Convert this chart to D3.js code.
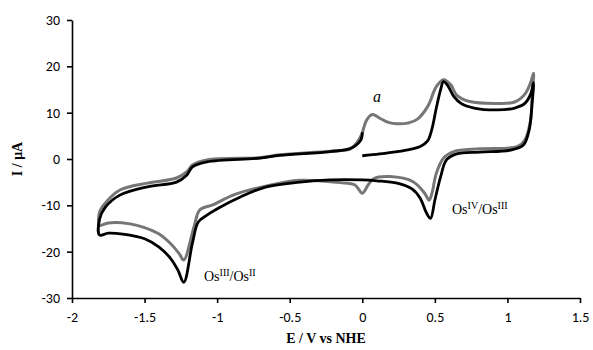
<!DOCTYPE html>
<html>
<head>
<meta charset="utf-8">
<script src="https://cdn.jsdelivr.net/npm/d3@7"></script>
<style>
  body { margin: 0; background: #fff; }
  svg text { fill: #000; }
</style>
</head>
<body>
<svg id="chart" width="593" height="350"></svg>
<script>
// x ticks / y ticks
const xTicks = [-2, -1.5, -1, -0.5, 0, 0.5, 1, 1.5];
const yTicks = [-30, -20, -10, 0, 10, 20, 30];

// black CV (E in V, I in uA)
const blackE = [0.0, 0.12, 0.24, 0.33, 0.4, 0.45, 0.48, 0.51, 0.54, 0.56, 0.59, 0.63, 0.68, 0.77, 0.93, 1.05, 1.12, 1.16, 1.18,
  1.17, 1.15, 1.11, 1.02, 0.81, 0.65, 0.58, 0.54, 0.5, 0.47, 0.44, 0.4, 0.34, 0.24, 0.1, 0.0, -0.22, -0.43, -0.66, -0.84, -0.98, -1.07, -1.13, -1.17, -1.23, -1.27, -1.32, -1.4, -1.5, -1.65, -1.75, -1.81,
  -1.81, -1.77, -1.67, -1.48, -1.28, -1.21, -1.17, -1.07, -0.7, -0.57, -0.22, -0.08, -0.01, 0.0];
const blackI = [0.7, 1.1, 1.6, 2.1, 2.7, 3.9, 6.5, 11, 15, 16.7, 15.8, 13.5, 12, 11, 10.6, 11, 12, 14, 16.5,
  12, 6.3, 3, 1.9, 1.5, 1.1, -0.2, -3.8, -8.9, -12.8, -11.5, -8.5, -6.4, -5.2, -4.7, -4.5, -4.5, -5, -6, -8.2, -10.4, -12.1, -13.6, -18.1, -26.6, -24, -21.5, -19, -17.2, -16.2, -16, -16.4,
  -13, -10.4, -7.8, -6, -5, -3.5, -1.7, -0.6, 0.2, 0.8, 1.6, 2.3, 4.1, 5.8];

// grey CV
const greyE = [0.0, 0.03, 0.07, 0.12, 0.18, 0.24, 0.32, 0.38, 0.45, 0.51, 0.56, 0.61, 0.65, 0.74, 0.93, 1.05, 1.12, 1.16, 1.18,
  1.17, 1.16, 1.12, 1.07, 0.81, 0.63, 0.56, 0.51, 0.48, 0.46, 0.43, 0.35, 0.19, 0.08, 0.04, 0.0, -0.05, -0.15, -0.22, -0.43, -0.66, -0.89, -1.03, -1.12, -1.16, -1.23, -1.26, -1.32, -1.4, -1.5, -1.6, -1.75, -1.81,
  -1.81, -1.77, -1.67, -1.48, -1.28, -1.21, -1.17, -1.07, -0.7, -0.57, -0.22, -0.08, -0.04, 0.0];
const greyI = [5.5, 8.4, 9.6, 8.8, 7.9, 7.6, 7.8, 8.6, 11.3, 15.6, 17.1, 16, 13.8, 12.4, 12, 12.3, 14, 16.5, 18.5,
  14, 8.4, 4.1, 2.7, 2.2, 1.6, 0.2, -3.1, -7.4, -8.9, -7.4, -4.9, -3.8, -4.2, -5.6, -7.4, -5.6, -5.1, -4.9, -4.6, -5.8, -7.8, -9.9, -11, -14.7, -21.8, -20.5, -18.3, -16.2, -14.8, -14, -13.8, -14.3,
  -11.5, -9.5, -6.7, -5.2, -4.1, -2.8, -1.3, -0.2, 0.3, 0.9, 1.7, 2.2, 3.4, 5.5];

const svg = d3.select("#chart");
const x = d3.scaleLinear().domain([-2, 1.5]).range([72, 580]);
const y = d3.scaleLinear().domain([-30, 30]).range([298, 20]);

const line = d3.line()
  .x(d => x(d[0]))
  .y(d => y(d[1]))
  .curve(d3.curveCatmullRom.alpha(0.5));

// grey first so black sits on top
svg.append("path")
  .datum(d3.zip(greyE, greyI))
  .attr("d", line)
  .attr("fill", "none")
  .attr("stroke", "#767676")
  .attr("stroke-width", 3)
  .attr("stroke-linejoin", "round");

svg.append("path")
  .datum(d3.zip(blackE, blackI))
  .attr("d", line)
  .attr("fill", "none")
  .attr("stroke", "#000")
  .attr("stroke-width", 2.8)
  .attr("stroke-linejoin", "round");

// axes
const xAxis = svg.append("g")
  .attr("transform", "translate(0," + y(-30) + ")")
  .call(d3.axisBottom(x).tickValues(xTicks).tickSize(5).tickSizeOuter(0).tickPadding(9).tickFormat(d3.format("")));
const yAxis = svg.append("g")
  .attr("transform", "translate(" + x(-2) + ",0)")
  .call(d3.axisLeft(y).tickValues(yTicks).tickSize(5).tickSizeOuter(0).tickPadding(7));

[xAxis, yAxis].forEach(g => {
  g.selectAll("path, line").attr("stroke", "#000").attr("stroke-width", 1.6);
  g.selectAll("text")
    .attr("font-family", "Carlito, Lato, 'Open Sans', sans-serif")
    .attr("font-size", 14)
    .attr("fill", "#404040");
});
xAxis.selectAll("text").text(d => d3.format("")(d).replace("−", "-"));
yAxis.selectAll("text").text(d => String(d));

// axis titles
const serif = "'Liberation Serif', 'DejaVu Serif', serif";
svg.append("text")
  .attr("x", (x(-2) + x(1.5)) / 2)
  .attr("y", 343)
  .attr("text-anchor", "middle")
  .attr("font-family", serif)
  .attr("font-weight", "bold")
  .attr("font-size", 14)
  .text("E / V vs NHE");

svg.append("text")
  .attr("transform", "translate(22," + y(0) + ") rotate(-90)")
  .attr("text-anchor", "middle")
  .attr("font-family", serif)
  .attr("font-weight", "bold")
  .attr("font-size", 14)
  .text("I / μA");

// annotations
svg.append("text")
  .attr("x", 373).attr("y", 102)
  .attr("font-family", serif).attr("font-style", "italic").attr("font-size", 16)
  .text("a");

function redox(px, py, hi, lo) {
  const t = svg.append("text").attr("x", px).attr("y", py)
    .attr("font-family", serif).attr("font-size", 14);
  t.append("tspan").text("Os");
  t.append("tspan").attr("dy", -5).attr("font-size", 10).text(hi);
  t.append("tspan").attr("dy", 5).text("/Os");
  t.append("tspan").attr("dy", -5).attr("font-size", 10).text(lo);
}
redox(452, 214, "IV", "III");
redox(204, 281, "III", "II");
</script>
</body>
</html>
